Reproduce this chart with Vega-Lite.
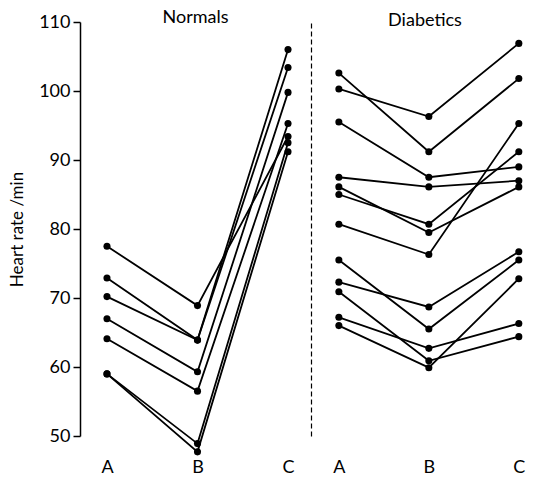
{
  "$schema": "https://vega.github.io/schema/vega-lite/v6.json",
  "padding": {"left": 8, "top": 9, "right": 0, "bottom": 0},
  "spacing": 0,
  "config": {
    "view": {"stroke": null},
    "font": "Lato",
    "title": {"fontSize": 18, "fontWeight": "normal", "baseline": "bottom", "offset": -14, "color": "black"},
    "axis": {"grid": false, "labelColor": "black", "titleColor": "black", "domainColor": "black", "tickColor": "black"}
  },
  "datasets": {
    "normals": [
      {"subject": "N1", "stage": "A", "rate": 77.5}, {"subject": "N1", "stage": "B", "rate": 68.9}, {"subject": "N1", "stage": "C", "rate": 93.4},
      {"subject": "N2", "stage": "A", "rate": 72.9}, {"subject": "N2", "stage": "B", "rate": 63.9}, {"subject": "N2", "stage": "C", "rate": 106.0},
      {"subject": "N3", "stage": "A", "rate": 70.2}, {"subject": "N3", "stage": "B", "rate": 63.9}, {"subject": "N3", "stage": "C", "rate": 103.4},
      {"subject": "N4", "stage": "A", "rate": 67.0}, {"subject": "N4", "stage": "B", "rate": 59.3}, {"subject": "N4", "stage": "C", "rate": 99.8},
      {"subject": "N5", "stage": "A", "rate": 64.1}, {"subject": "N5", "stage": "B", "rate": 56.5}, {"subject": "N5", "stage": "C", "rate": 95.3},
      {"subject": "N6", "stage": "A", "rate": 59.0}, {"subject": "N6", "stage": "B", "rate": 48.9}, {"subject": "N6", "stage": "C", "rate": 92.5},
      {"subject": "N7", "stage": "A", "rate": 59.0}, {"subject": "N7", "stage": "B", "rate": 47.7}, {"subject": "N7", "stage": "C", "rate": 91.2}
    ],
    "diabetics": [
      {"subject": "D1", "stage": "A", "rate": 102.6}, {"subject": "D1", "stage": "B", "rate": 91.2}, {"subject": "D1", "stage": "C", "rate": 101.8},
      {"subject": "D2", "stage": "A", "rate": 100.3}, {"subject": "D2", "stage": "B", "rate": 96.3}, {"subject": "D2", "stage": "C", "rate": 106.9},
      {"subject": "D3", "stage": "A", "rate": 95.5}, {"subject": "D3", "stage": "B", "rate": 87.5}, {"subject": "D3", "stage": "C", "rate": 89.0},
      {"subject": "D4", "stage": "A", "rate": 87.5}, {"subject": "D4", "stage": "B", "rate": 86.1}, {"subject": "D4", "stage": "C", "rate": 87.0},
      {"subject": "D5", "stage": "A", "rate": 86.1}, {"subject": "D5", "stage": "B", "rate": 79.5}, {"subject": "D5", "stage": "C", "rate": 86.1},
      {"subject": "D6", "stage": "A", "rate": 85.0}, {"subject": "D6", "stage": "B", "rate": 80.7}, {"subject": "D6", "stage": "C", "rate": 91.2},
      {"subject": "D7", "stage": "A", "rate": 80.7}, {"subject": "D7", "stage": "B", "rate": 76.3}, {"subject": "D7", "stage": "C", "rate": 95.3},
      {"subject": "D8", "stage": "A", "rate": 72.3}, {"subject": "D8", "stage": "B", "rate": 68.7}, {"subject": "D8", "stage": "C", "rate": 76.7},
      {"subject": "D9", "stage": "A", "rate": 75.5}, {"subject": "D9", "stage": "B", "rate": 65.5}, {"subject": "D9", "stage": "C", "rate": 75.5},
      {"subject": "D10", "stage": "A", "rate": 70.9}, {"subject": "D10", "stage": "B", "rate": 60.9}, {"subject": "D10", "stage": "C", "rate": 64.4},
      {"subject": "D11", "stage": "A", "rate": 67.2}, {"subject": "D11", "stage": "B", "rate": 62.7}, {"subject": "D11", "stage": "C", "rate": 66.3},
      {"subject": "D12", "stage": "A", "rate": 66.0}, {"subject": "D12", "stage": "B", "rate": 59.9}, {"subject": "D12", "stage": "C", "rate": 72.8}
    ]
  },
  "hconcat": [
    {
      "width": 231,
      "height": 414,
      "title": {"text": "Normals", "offset": -14},
      "data": {"name": "normals"},
      "encoding": {
        "x": {"field": "stage", "type": "ordinal", "scale": {"type": "point", "padding": 0.276, "align": 0.54},
              "axis": {"title": null, "domain": false, "ticks": false, "labelAngle": 0, "labelFontSize": 18, "labelPadding": 22}},
        "y": {"field": "rate", "type": "quantitative", "scale": {"domain": [50, 110], "nice": false, "zero": false},
              "axis": {"values": [50, 60, 70, 80, 90, 100, 110], "title": "Heart rate /min", "titleFontSize": 17, "titleFontWeight": "normal", "titlePadding": 12,
                       "labelFontSize": 18, "labelPadding": 3, "tickSize": 7, "tickWidth": 1.5, "domainWidth": 1.5}},
        "detail": {"field": "subject"}
      },
      "layer": [
        {"mark": {"type": "line", "color": "black", "strokeWidth": 1.8}},
        {"mark": {"type": "circle", "color": "black", "size": 50, "opacity": 1}}
      ]
    },
    {
      "width": 228,
      "height": 414,
      "title": {"text": "Diabetics", "offset": -8},
      "data": {"name": "diabetics"},
      "encoding": {
        "x": {"field": "stage", "type": "ordinal", "scale": {"type": "point", "padding": 0.267, "align": 0.58},
              "axis": {"title": null, "domain": false, "ticks": false, "labelAngle": 0, "labelFontSize": 18, "labelPadding": 22}},
        "y": {"field": "rate", "type": "quantitative", "scale": {"domain": [50, 110], "nice": false, "zero": false},
              "axis": {"title": null, "labels": false, "ticks": false, "domainDash": [5, 3], "domainWidth": 1.2}},
        "detail": {"field": "subject"}
      },
      "layer": [
        {"mark": {"type": "line", "color": "black", "strokeWidth": 1.8}},
        {"mark": {"type": "circle", "color": "black", "size": 50, "opacity": 1}}
      ]
    }
  ]
}
